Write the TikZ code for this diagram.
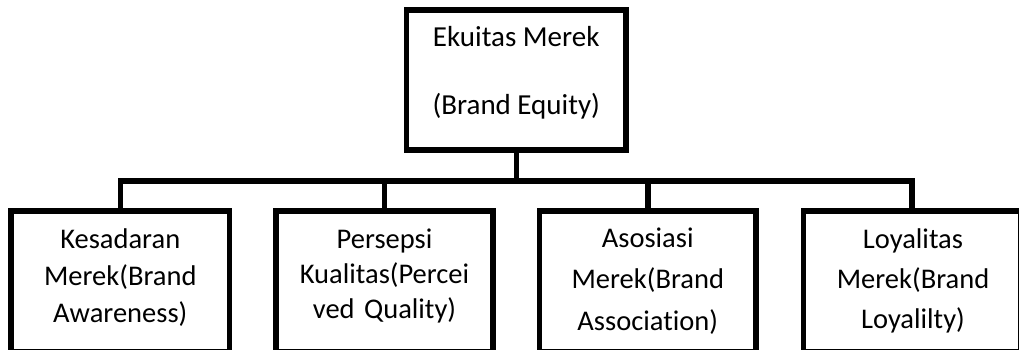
\documentclass[tikz,border=0pt]{standalone}
\usepackage{fontspec}
\setmainfont[Ligatures={NoCommon}]{Carlito}
\begin{document}
\begin{tikzpicture}[x=1pt,y=-1pt,
  box/.style={draw=black,line width=5.5pt,inner sep=0pt,fill=none},
  conn/.style={draw=black,line width=5.5pt},
  toplbl/.style={anchor=base,inner sep=0pt,font=\fontsize{29}{35}\selectfont},
  lbl/.style={anchor=base,inner sep=0pt,text width=215pt,align=center}]
\useasboundingbox (0,0) rectangle (1019,350);
% top box
\node[box,minimum width=219.5pt,minimum height=140pt] (top) at (516.25,80) {};
\node[toplbl] (topA) at (516.25,46.7) {Ekuitas Merek};
\node[toplbl] (topB) at (516.25,115) {(Brand Equity)};
% bottom boxes
\node[box,minimum width=218.5pt,minimum height=140.5pt] (b1) at (120.25,281.25) {};
\node[box,minimum width=217pt,minimum height=140.5pt] (b2) at (384.5,281.25) {};
\node[box,minimum width=216.5pt,minimum height=140.5pt] (b3) at (647.75,281.25) {};
\node[box,minimum width=217pt,minimum height=140.5pt] (b4) at (912,281.25) {};
\node[lbl,font=\fontsize{28.5}{37}\selectfont] (l1) at (120.25,248) {Kesadaran\\Merek(Brand\\Awareness)};
\node[lbl,font=\fontsize{28.5}{35}\selectfont] (l2) at (384.5,248) {Persepsi\\Kualitas(Percei\\ved Quality)};
\node[lbl,font=\fontsize{28.5}{41.5}\selectfont] (l3) at (647.75,247) {Asosiasi\\Merek(Brand\\Association)};
\node[lbl,font=\fontsize{28.5}{40}\selectfont] (l4) at (913,248) {Loyalitas\\Merek(Brand\\Loyalilty)};
% connectors
\coordinate (bus) at (516.25,181);
\draw[conn] (top.south) -- (bus);
\draw[conn] (b1.north) |- (bus) -| (b4.north);
\draw[conn] (b2.north) -- (b2.north |- bus);
\draw[conn] (b3.north) -- (b3.north |- bus);
\end{tikzpicture}
\end{document}
